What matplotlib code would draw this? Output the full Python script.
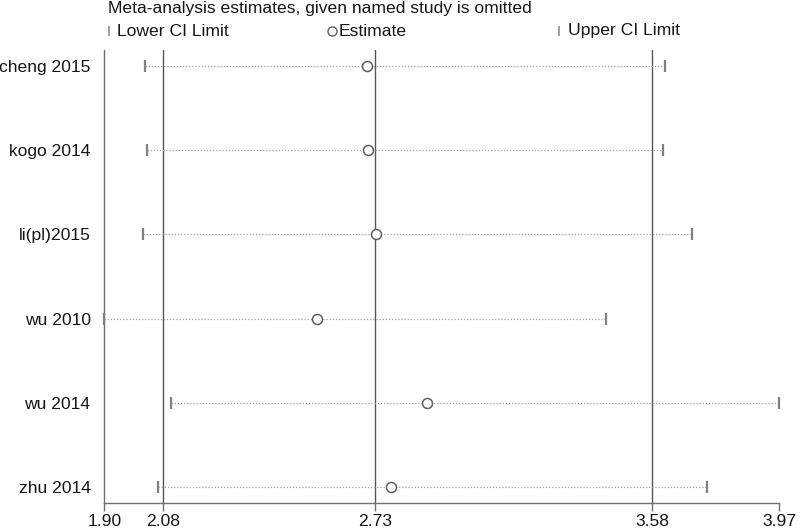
import matplotlib
matplotlib.use("Agg")
import matplotlib.pyplot as plt

plt.rcParams['font.family'] = ['Liberation Sans', 'DejaVu Sans']

# study omitted, and the pooled estimate with its CI
studies = ['cheng 2015', 'kogo 2014', 'li(pl)2015', 'wu 2010', 'wu 2014', 'zhu 2014']
lower = [2.024, 2.030, 2.017, 1.900, 2.103, 2.065]
estimate = [2.706, 2.708, 2.734, 2.552, 2.889, 2.779]
upper = [3.619, 3.615, 3.703, 3.440, 3.970, 3.748]

tick_vals = [1.90, 2.08, 2.73, 3.58, 3.97]
tick_labels = ['1.90', '2.08', '2.73', '3.58', '3.97']
ref_lines = [2.08, 2.73, 3.58]

FS = 12.6
TXT = '#151515'

fig = plt.figure(figsize=(8, 5.3), dpi=100)
ax = fig.add_axes([0.1306, 0.0509, 0.8432, 0.8548])

ypos = list(range(1, len(studies) + 1))

for x in ref_lines:
    ax.axvline(x, color='#555555', lw=1.0, zorder=1)

for y, lo, est, up in zip(ypos, lower, estimate, upper):
    ax.plot([lo, up], [y, y], ls=(0, (1, 1.5)), color='#a0a0a0', lw=0.9, zorder=2)
    ax.plot([lo, up], [y, y], ls='none', marker='|', ms=9, mew=1.6,
            color='#808080', zorder=3, clip_on=False)
    ax.plot(est, y, ls='none', marker='o', ms=7.2, mfc='white', mec='#606060',
            mew=1.1, zorder=4)

ax.set_xlim(1.90, 3.97)
ax.set_ylim(6.19, 0.81)
ax.set_xticks(tick_vals)
ax.set_xticklabels(tick_labels)
ax.set_yticks(ypos)
ax.set_yticklabels(studies)

for side in ['top', 'right']:
    ax.spines[side].set_visible(False)
for side in ['left', 'bottom']:
    ax.spines[side].set_color('#707070')
    ax.spines[side].set_linewidth(1.0)

ax.tick_params(axis='x', direction='out', length=6, width=1.0, color='#707070',
               labelsize=FS, labelcolor=TXT, pad=2)
ax.tick_params(axis='y', length=0, labelsize=FS, labelcolor=TXT, pad=10)

# header and legend
fig.text(108 / 800, 1 - 8 / 530, 'Meta-analysis estimates, given named study is omitted',
         fontsize=FS, color=TXT, va='center', ha='left')

ly = 1 - 31 / 530
fig.add_artist(plt.Line2D([109 / 800], [ly], marker='|', ms=7, mew=1.2,
                          color='#909090', transform=fig.transFigure))
fig.text(117 / 800, ly, 'Lower CI Limit', fontsize=FS, color=TXT, va='center')
fig.add_artist(plt.Line2D([332 / 800], [ly], marker='o', ms=6.5, mfc='white',
                          mec='#606060', mew=1.0, transform=fig.transFigure))
fig.text(339 / 800, ly, 'Estimate', fontsize=FS, color=TXT, va='center')
fig.add_artist(plt.Line2D([559 / 800], [ly], marker='|', ms=7, mew=1.2,
                          color='#909090', transform=fig.transFigure))
fig.text(568 / 800, ly, 'Upper CI Limit', fontsize=FS, color=TXT, va='center')

fig.savefig('out.png', dpi=100, facecolor='white')
